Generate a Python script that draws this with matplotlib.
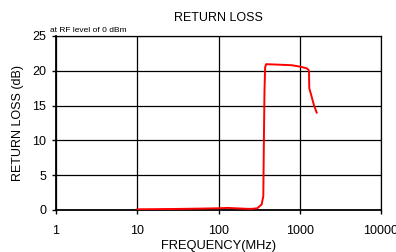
import matplotlib
matplotlib.use("Agg")
import matplotlib.pyplot as plt

plt.rcParams['font.family'] = ['Liberation Sans', 'DejaVu Sans']

# return loss vs frequency
freq = [10, 30, 60, 100, 130, 180, 250, 300, 340, 356, 362, 368, 375,
        385, 500, 800, 1000, 1218, 1290, 1300, 1310, 1400, 1500, 1617]
loss = [0.1, 0.15, 0.2, 0.25, 0.3, 0.22, 0.15, 0.25, 0.8, 2.0, 10.0, 17.0, 20.5,
        20.95, 20.9, 20.8, 20.6, 20.36, 20.1, 19.7, 17.5, 16.3, 15.0, 14.0]

xticks = [1, 10, 100, 1000, 10000]
yticks = [0, 5, 10, 15, 20, 25]

fig = plt.figure(figsize=(3.96, 2.52), dpi=100)
ax = fig.add_axes([56/396, 42/252, 325/396, 174/252])

ax.plot(freq, loss, color='red', lw=1.4, zorder=3)

ax.set_xscale('log')
ax.set_xlim(1, 10000)
ax.set_ylim(0, 25)
ax.set_xticks(xticks)
ax.set_xticklabels([str(t) for t in xticks])
ax.minorticks_off()
ax.set_yticks(yticks)
ax.grid(True, color='black', lw=0.9)
ax.tick_params(direction='out', length=3, width=1, labelsize=9)
ax.tick_params(axis='x', pad=8)
ax.tick_params(axis='y', pad=4)
for s in ['left', 'bottom']:
    ax.spines[s].set_linewidth(1.3)
for s in ['top', 'right']:
    ax.spines[s].set_linewidth(0.9)

ax.set_title('RETURN LOSS', fontsize=9, pad=10.5)
ax.set_xlabel('FREQUENCY(MHz)', fontsize=9.3, labelpad=2)
ax.set_ylabel('RETURN LOSS (dB)', fontsize=9, labelpad=6)
# the reference cuts off "10000" at the right edge too
ax.text(-0.017, 1.01, 'at RF level of 0 dBm', transform=ax.transAxes,
        fontsize=6, ha='left', va='bottom')

fig.savefig('out.png', dpi=100)
